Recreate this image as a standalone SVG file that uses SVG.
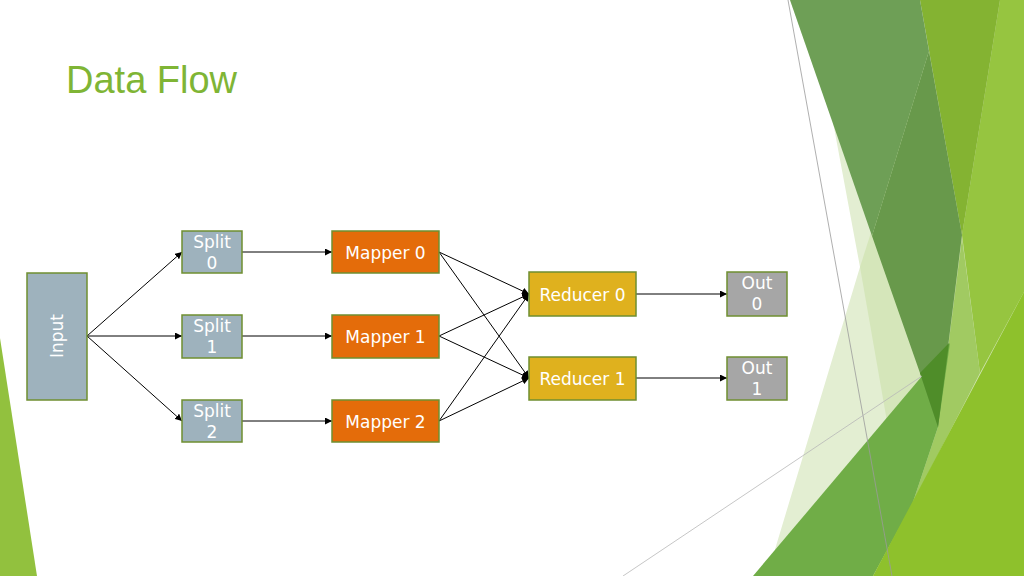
<svg xmlns="http://www.w3.org/2000/svg" width="1024" height="576" viewBox="0 0 1024 576">
<defs>
<marker id="ah" viewBox="0 0 10 10" refX="10" refY="5" markerWidth="7" markerHeight="7" markerUnits="userSpaceOnUse" orient="auto">
<path d="M0,0 L10,5 L0,10 z" fill="#000"/>
</marker>
<style>
.nb{stroke:#6F8F31;stroke-width:1.5}
.in{fill:#9EB2BD}
.mp{fill:#E46C0A}
.rd{fill:#DFB11E}
.ot{fill:#A6A6A6}
.t{font-family:"DejaVu Sans","Noto Sans",sans-serif;font-size:17px;fill:#fff;text-anchor:middle}
.e{stroke:#000;stroke-width:1;fill:none;marker-end:url(#ah)}
</style>
</defs>
<rect width="1024" height="576" fill="#fff"/>
<g id="background">
<polygon points="0,338 37,576 0,576" fill="#92C13E"/>
<polygon points="790,0 833,122 860,267 767,576 1024,576 1024,0" fill="#E3EED2"/>
<polygon points="945,0 1024,0 1024,576 914,576 860,267" fill="#D5E6BA"/>
<polygon points="1000,0 1024,0 1024,292 980,373 962,235" fill="#96C540"/>
<polygon points="920,0 1000,0 962,235" fill="#84B332"/>
<polygon points="962,238 980,373 912,505 938,427" fill="#A1CA62"/>
<polygon points="753,576 950,343 938,427 912,505 873,576" fill="#70AD47"/>
<polygon points="873,576 1024,292 1024,576" fill="#8EC12C"/>
<polygon points="790,0 920,0 929,51 872,236" fill="#6E9F56"/>
<polygon points="929,51 962,235 938,427 920,373 872,236" fill="#68994B"/>
<polygon points="920,373 949,343 938,427" fill="#4F8D29"/>
<line x1="788" y1="0" x2="892" y2="576" stroke="#9A9A9A" stroke-width="0.8"/>
<line x1="623" y1="576" x2="922" y2="376" stroke="#B8B8B8" stroke-width="0.8"/>
</g>
<text id="title" x="66" y="93" font-family="'Liberation Sans',Arial,sans-serif" font-size="38" fill="#7FB535">Data Flow</text>
<g id="connectors">
<line class="e" x1="87" y1="336" x2="182" y2="252"/>
<line class="e" x1="87" y1="336" x2="182" y2="336"/>
<line class="e" x1="87" y1="336" x2="182" y2="421"/>
<line class="e" x1="242" y1="252" x2="332" y2="252"/>
<line class="e" x1="242" y1="336" x2="332" y2="336"/>
<line class="e" x1="242" y1="421" x2="332" y2="421"/>
<line class="e" x1="439" y1="252" x2="529" y2="294"/>
<line class="e" x1="439" y1="252" x2="529" y2="378"/>
<line class="e" x1="439" y1="336" x2="529" y2="294"/>
<line class="e" x1="439" y1="336" x2="529" y2="378"/>
<line class="e" x1="439" y1="421" x2="529" y2="294"/>
<line class="e" x1="439" y1="421" x2="529" y2="378"/>
<line class="e" x1="636" y1="294" x2="727" y2="294"/>
<line class="e" x1="636" y1="378" x2="727" y2="378"/>
</g>
<g id="input"><rect class="nb in" x="27" y="273" width="60" height="127"/><text class="t" transform="translate(63,336) rotate(-90)">Input</text></g>
<g id="split0"><rect class="nb in" x="182" y="231" width="60" height="42"/><text class="t" x="212" y="248">Split</text><text class="t" x="212" y="269">0</text></g>
<g id="split1"><rect class="nb in" x="182" y="315" width="60" height="43"/><text class="t" x="212" y="332">Split</text><text class="t" x="212" y="353">1</text></g>
<g id="split2"><rect class="nb in" x="182" y="400" width="60" height="42"/><text class="t" x="212" y="417">Split</text><text class="t" x="212" y="438">2</text></g>
<g id="mapper0"><rect class="nb mp" x="332" y="231" width="107" height="42"/><text class="t" x="385.5" y="259">Mapper 0</text></g>
<g id="mapper1"><rect class="nb mp" x="332" y="315" width="107" height="43"/><text class="t" x="385.5" y="343">Mapper 1</text></g>
<g id="mapper2"><rect class="nb mp" x="332" y="400" width="107" height="42"/><text class="t" x="385.5" y="428">Mapper 2</text></g>
<g id="reducer0"><rect class="nb rd" x="529" y="272" width="107" height="44"/><text class="t" x="582.5" y="301">Reducer 0</text></g>
<g id="reducer1"><rect class="nb rd" x="529" y="357" width="107" height="43"/><text class="t" x="582.5" y="385">Reducer 1</text></g>
<g id="out0"><rect class="nb ot" x="727" y="272" width="60" height="44"/><text class="t" x="757" y="289">Out</text><text class="t" x="757" y="310">0</text></g>
<g id="out1"><rect class="nb ot" x="727" y="357" width="60" height="43"/><text class="t" x="757" y="374">Out</text><text class="t" x="757" y="395">1</text></g>
</svg>
